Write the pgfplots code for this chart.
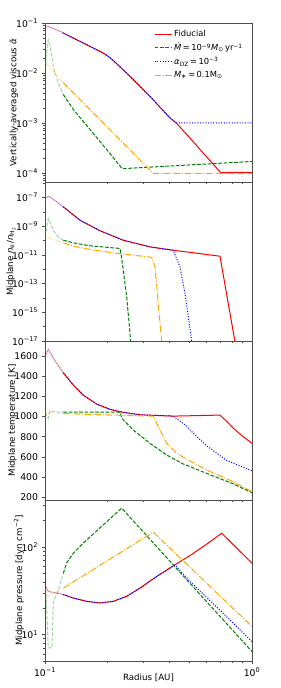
\documentclass[border=0pt]{standalone}
\usepackage{fontspec}
\setmainfont{DejaVu Sans}
\usepackage{pgfplots}
\pgfplotsset{compat=1.18}
\definecolor{mplred}{RGB}{255,0,0}
\definecolor{mplgreen}{RGB}{0,128,0}
\definecolor{mplblue}{RGB}{0,0,255}
\definecolor{mplorange}{RGB}{255,165,0}
\newcommand{\tsup}[1]{\textsuperscript{#1}}
\tikzset{
  fid/.style={mplred, line width=1bp},
  mdot/.style={mplgreen, line width=1bp, dash pattern=on 3.7bp off 1.6bp},
  adz/.style={mplblue, line width=1bp, dash pattern=on 1bp off 1.65bp},
  mst/.style={mplorange, line width=1bp, dash pattern=on 6.4bp off 1.6bp on 1bp off 1.6bp},
  faded/.style={opacity=0.35},
}
\pgfplotsset{
  every axis/.append style={
    scale only axis, width=207bp, height=159bp, anchor=south west,
    xmin=0.1, xmax=1,
    xtick={0.1,1}, minor xtick={0.2,0.3,0.4,0.5,0.6,0.7,0.8,0.9},
    xtick pos=bottom, ytick pos=left, tick align=outside,
    major tick length=3.5bp, minor tick length=2bp,
    axis line style={black!70, line width=0.7bp},
    tick style={black!70, line width=0.6bp},
    tick label style={font=\fontsize{9.3}{10}\selectfont},
    label style={font=\fontsize{8.7}{10}\selectfont},
  },
}
\begin{document}
\begin{tikzpicture}
\path[use as bounding box] (0bp,0bp) rectangle (281bp,688bp);
% ---------- Panel 1 ----------
\begin{axis}[at={(45bp,506bp)}, xmode=log,
  ymode=log, ymin=6.6e-5, ymax=0.1,
  ytick={1e-4,1e-3,1e-2,1e-1},
  yticklabels={10\tsup{−4},10\tsup{−3},10\tsup{−2},10\tsup{−1}},
  minor ytick={7e-5,8e-5,9e-5,2e-4,3e-4,4e-4,5e-4,6e-4,7e-4,8e-4,9e-4,2e-3,3e-3,4e-3,5e-3,6e-3,7e-3,8e-3,9e-3,2e-2,3e-2,4e-2,5e-2,6e-2,7e-2,8e-2,9e-2},
  xticklabels={},
  ylabel={Vertically-averaged viscous \textit{α̃}},
  ylabel style={at={(axis description cs:-0.15,0.5)}, anchor=center},
  legend style={at={(0.97,0.975)}, anchor=north east, draw=none, fill=none,
    font=\fontsize{8.4}{9.5}\selectfont, row sep=1.2bp, inner sep=1bp},
  legend cell align=left,
]
\addplot[fid, faded, forget plot] coordinates {(0.1,0.083) (0.1037,0.0855) (0.11,0.077) (0.1182,0.068) (0.1226,0.063)};
\addplot[mdot, faded, forget plot] coordinates {(0.1,0.0074) (0.1011,0.02) (0.1037,0.046) (0.106,0.035) (0.1097,0.0135) (0.1156,0.0065) (0.1226,0.0037)};
\addplot[adz, faded, forget plot] coordinates {(0.1,0.083) (0.1037,0.0855) (0.11,0.077) (0.1182,0.068) (0.1226,0.063)};
\addplot[mst, faded, forget plot] coordinates {(0.1,0.0165) (0.1226,0.0064)};
\addplot[fid] coordinates {(0.1226,0.063) (0.1476,0.043) (0.1844,0.0271) (0.2,0.0222) (0.2138,0.0178) (0.2574,0.00857) (0.3215,0.00341) (0.4016,0.00126) (0.4327,0.00098) (0.5017,5.0e-4) (0.5609,2.95e-4) (0.7059,1.02e-4) (1.0,1.03e-4)};
\addlegendentry{Fiducial}
\addplot[mdot] coordinates {(0.1226,0.0037) (0.137,0.00186) (0.165,7.4e-4) (0.1986,2.95e-4) (0.2346,1.26e-4) (0.2375,1.22e-4) (1.0,1.7e-4)};
\addlegendentry{\textit{Ṁ}\,=\,10\tsup{−9}\textit{M}\textsubscript{⊙}\,yr\tsup{−1}}
\addplot[adz] coordinates {(0.1226,0.063) (0.1476,0.043) (0.1844,0.0271) (0.2,0.0222) (0.2138,0.0178) (0.2574,0.00857) (0.3215,0.00341) (0.4016,0.00126) (0.4327,0.001) (1.0,0.001)};
\addlegendentry{\textit{α}\textsubscript{DZ}\,=\,10\tsup{−3}}
\addplot[mst] coordinates {(0.1226,0.0064) (0.3336,9.8e-5) (1.0,9.8e-5)};
\addlegendentry{\textit{M}\textsubscript{∗}\,=\,0.1M\textsubscript{⊙}}
\end{axis}
% ---------- Panel 2 ----------
\begin{axis}[at={(45bp,347bp)}, xmode=log,
  ymode=log, ymin=1e-17, ymax=1.2e-6,
  ytick={1e-17,1e-15,1e-13,1e-11,1e-9,1e-7},
  yticklabels={10\tsup{−17},10\tsup{−15},10\tsup{−13},10\tsup{−11},10\tsup{−9},10\tsup{−7}},
  minor ytick={1e-16,1e-14,1e-12,1e-10,1e-8,1e-6},
  xticklabels={},
  ylabel={Midplane \textit{n}\textsubscript{e}/\textit{n}\textsubscript{H\textsubscript{2}}},
  ylabel style={at={(axis description cs:-0.164,0.5)}, anchor=center},
]
\addplot[fid, faded] coordinates {(0.1,8.5e-8) (0.1045,1.23e-7) (0.112,6e-8) (0.1226,2.24e-8)};
\addplot[mdot, faded] coordinates {(0.1,1.8e-10) (0.1037,3.5e-9) (0.107,1.2e-9) (0.1097,5e-10) (0.1151,2e-10) (0.1226,1.05e-10)};
\addplot[adz, faded] coordinates {(0.1,8.5e-8) (0.1045,1.23e-7) (0.112,6e-8) (0.1226,2.24e-8)};
\addplot[mst, faded] coordinates {(0.1,1.8e-10) (0.1226,6.9e-11)};
\addplot[fid] coordinates {(0.1226,2.24e-8) (0.1476,2.6e-9) (0.1844,4.8e-10) (0.2389,1.05e-10) (0.3215,3.6e-11) (0.4168,2.1e-11) (0.5017,1.5e-11) (0.7004,8.1e-12) (0.8277,8.7e-18) (0.835,5e-18)};
\addplot[mdot] coordinates {(0.1226,1.05e-10) (0.137,6.9e-11) (0.165,4.3e-11) (0.2303,2.8e-11) (0.2346,6.3e-12) (0.2481,1.26e-14) (0.2594,1e-17) (0.261,5e-18)};
\addplot[adz] coordinates {(0.1226,2.24e-8) (0.1476,2.6e-9) (0.1844,4.8e-10) (0.2389,1.05e-10) (0.3215,3.6e-11) (0.4168,2.1e-11) (0.4489,1.45e-12) (0.4747,2e-14) (0.5113,1e-17) (0.515,5e-18)};
\addplot[mst] coordinates {(0.1226,6.9e-11) (0.14,3.8e-11) (0.165,2.4e-11) (0.22,1.32e-11) (0.3277,6.8e-12) (0.34,1.45e-12) (0.3526,4e-15) (0.3662,1e-17) (0.368,5e-18)};
\end{axis}
% ---------- Panel 3 ----------
\begin{axis}[at={(45bp,188bp)}, xmode=log,
  ymin=173, ymax=1750,
  ytick={200,400,600,800,1000,1200,1400,1600},
  /pgf/number format/assume math mode=true,
  /pgf/number format/1000 sep={},
  xticklabels={},
  ylabel={Midplane temperature [K]},
  ylabel style={at={(axis description cs:-0.157,0.5)}, anchor=center},
]
\addplot[fid, faded] coordinates {(0.1,1593) (0.1037,1666) (0.1139,1528) (0.1226,1435)};
\addplot[mdot, faded] coordinates {(0.1,1041) (0.1037,983) (0.1057,1058) (0.11,1048) (0.1226,1045)};
\addplot[adz, faded] coordinates {(0.1,1593) (0.1037,1666) (0.1139,1528) (0.1226,1435)};
\addplot[mst, faded] coordinates {(0.1,1040) (0.1226,1030)};
\addplot[fid] coordinates {(0.1226,1435) (0.137,1313) (0.1531,1213) (0.1778,1124) (0.2061,1072) (0.2346,1045) (0.2876,1018) (0.4168,1005) (0.7004,1015) (0.7549,953) (0.8123,885) (0.9,807) (1.0,735)};
\addplot[mdot] coordinates {(0.1226,1045) (0.2303,1045) (0.2346,985) (0.2671,867) (0.3215,735) (0.3872,619) (0.4658,530) (0.604,437) (0.8123,333) (1.0,245)};
\addplot[adz] coordinates {(0.1226,1435) (0.137,1313) (0.1531,1213) (0.1778,1124) (0.2061,1072) (0.2346,1045) (0.2876,1018) (0.4168,1005) (0.4837,905) (0.5017,867) (0.604,710) (0.7549,565) (1.0,463)};
\addplot[mst] coordinates {(0.1226,1030) (0.2303,1013) (0.3336,1005) (0.3594,867) (0.3872,735) (0.4327,636) (0.5017,560) (0.604,470) (0.8123,354) (1.0,255)};
\end{axis}
% ---------- Panel 4 ----------
\begin{axis}[at={(45bp,27bp)}, xmode=log, height=161bp,
  ymode=log, ymin=5.0, ymax=345,
  ytick={10,100},
  yticklabels={10\tsup{1},10\tsup{2}},
  minor ytick={5,6,7,8,9,20,30,40,50,60,70,80,90,200,300},
  xticklabels={10\tsup{−1},10\tsup{0}},
  xlabel={Radius [AU]},
  xlabel style={at={(axis description cs:0.5,-0.106)}, anchor=center},
  ylabel={Midplane pressure [dyn cm\tsup{−2}]},
  ylabel style={at={(axis description cs:-0.126,0.5)}, anchor=center},
]
\addplot[fid, faded] coordinates {(0.1,37) (0.1037,31.2) (0.1182,29.3) (0.1226,28.7)};
\addplot[mdot, faded] coordinates {(0.1,50) (0.1028,12) (0.1037,7.05) (0.108,7.05) (0.1097,24) (0.1156,31) (0.1204,44) (0.1226,50)};
\addplot[adz, faded] coordinates {(0.1,37) (0.1037,31.2) (0.1182,29.3) (0.1226,28.7)};
\addplot[mst, faded] coordinates {(0.1,30) (0.1037,27.4) (0.1226,34)};
\addplot[fid] coordinates {(0.1226,28.7) (0.137,26.2) (0.159,24) (0.1844,23) (0.2138,24) (0.2481,27.4) (0.2876,34) (0.3464,46.2) (0.4327,64.6) (0.5017,80) (0.604,108) (0.714,144) (1.0,65.5)};
\addplot[mdot] coordinates {(0.1226,50) (0.1273,66) (0.137,85) (0.1531,111) (0.2346,279) (1.0,6.4)};
\addplot[adz] coordinates {(0.1226,28.7) (0.137,26.2) (0.159,24) (0.1844,23) (0.2138,24) (0.2481,27.4) (0.2876,34) (0.3464,46.2) (0.4243,62.5) (0.5017,40.6) (0.7266,17.5) (1.0,8.3)};
\addplot[mst] coordinates {(0.1226,34) (0.3336,148) (1.0,12.4)};
\end{axis}
\end{tikzpicture}
\end{document}
